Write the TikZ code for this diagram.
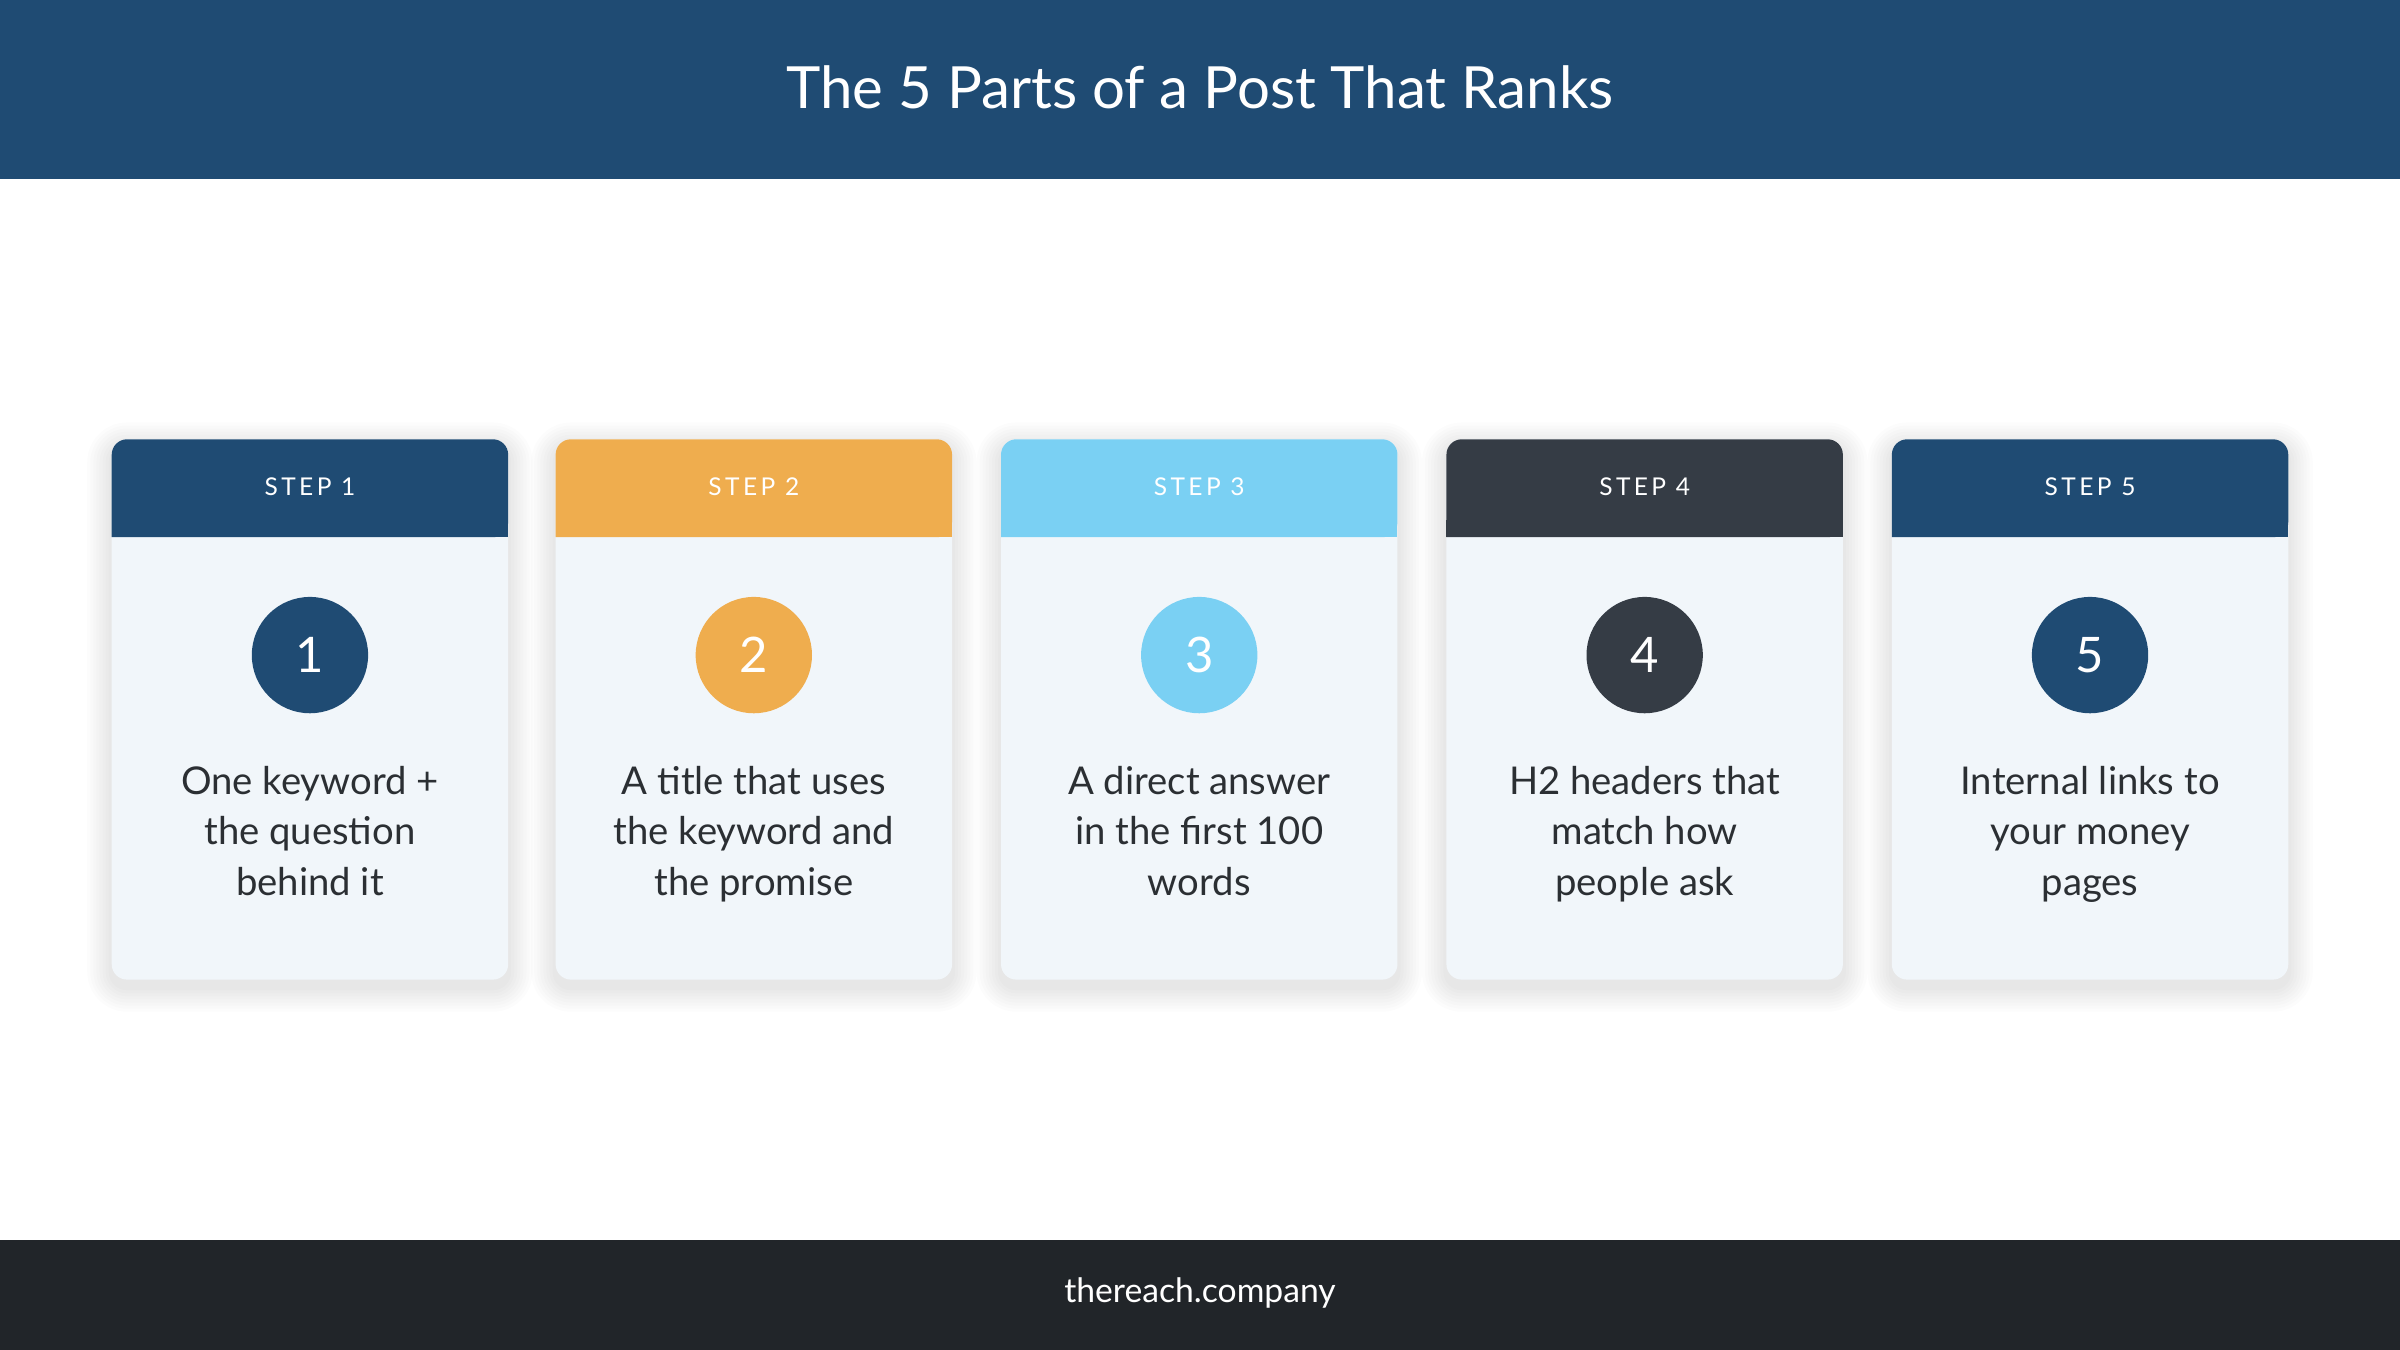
\documentclass[tikz,border=0pt]{standalone}
\usepackage{fontspec}
\setmainfont{Lato}
\newfontfamily\stepfont[LetterSpace=14]{Lato}
\definecolor{navy}{HTML}{1F4B73}
\definecolor{orange}{HTML}{EFAD4E}
\definecolor{sky}{HTML}{7AD0F3}
\definecolor{slate}{HTML}{353C45}
\definecolor{cardbg}{HTML}{F1F6FA}
\definecolor{foot}{HTML}{212529}
\definecolor{txt}{HTML}{2B2F33}
\begin{document}
\begin{tikzpicture}[x=1pt,y=-1pt,
  card/.style={fill=cardbg,rounded corners=10pt},
  shade/.style={fill=black,fill opacity=0.012},
  lbl/.style={text=white,font=\stepfont\fontsize{16}{18}\selectfont},
  num/.style={circle,minimum size=76pt,inner sep=0pt,text=white,font=\fontsize{32}{36}\selectfont},
  body/.style={text=txt,align=center,font=\fontsize{25}{33}\selectfont,anchor=north}]
\useasboundingbox (0,0) rectangle (1568,882);
\fill[white] (0,0) rectangle (1568,882);
\fill[navy] (0,0) rectangle (1568,117);
\node[text=white,font=\fontsize{38}{44}\selectfont] (title) at (784,57) {The 5 Parts of a Post That Ranks};
\fill[foot] (0,810) rectangle (1568,882);
\node[text=white,font=\fontsize{22}{26}\selectfont] (footer) at (784,845) {thereach.company};
\foreach \i/\x/\c/\t in {1/73/navy/{One keyword +\\the question\\behind it},
  2/363/orange/{A title that uses\\the keyword and\\the promise},
  3/654/sky/{A direct answer\\in the first 100\\words},
  4/945/slate/{H2 headers that\\match how\\people ask},
  5/1236/navy/{Internal links to\\your money\\pages}}{
  \foreach \k in {2,4,...,16}{
    \fill[shade,rounded corners=10pt+\k pt] (\x-\k,287-\k+5) rectangle (\x+259+\k,640+\k+5);
  }
  \path[card] (\x,287) rectangle ++(259,353);
  \fill[\c,rounded corners=10pt] (\x,351) -- (\x,287) -- ++(259,0) -- ++(0,64) [sharp corners]-- cycle;
  \fill[\c] (\x,340) rectangle ++(259,11);
  \node[lbl] (s\i) at (\x+129.5,318) {STEP \i};
  \node[num,fill=\c] (n\i) at (\x+129.5,428) {\i};
  \node[body] (b\i) at (\x+129.5,497) {\t};
}
\end{tikzpicture}
\end{document}
